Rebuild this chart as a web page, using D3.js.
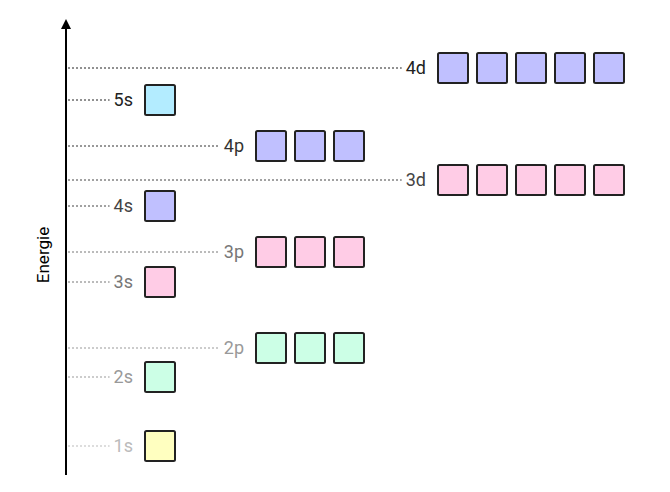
<!DOCTYPE html>
<html>
<head>
<meta charset="utf-8">
<script src="https://cdn.jsdelivr.net/npm/d3@7"></script>
<style>
  body { margin: 0; background: #fff; }
  text { font-family: Roboto, "Liberation Sans", sans-serif; }
</style>
</head>
<body>
<svg id="chart" width="670" height="492"></svg>
<script>
// orbitals, bottom to top
const orbitals = ["1s", "2s", "2p", "3s", "3p", "4s", "3d", "4p", "5s", "4d"];
const energies = [24, 93, 122, 188, 218, 264, 290, 324, 370, 402];
const boxCounts = [1, 1, 3, 1, 3, 1, 5, 3, 1, 5];
const fills = ["#ffffc0", "#ccffe6", "#ccffe6", "#ffcce6", "#ffcce6", "#c0c0ff", "#ffcce6", "#c0c0ff", "#b3ecff", "#c0c0ff"];
const labelColors = ["#bbbbbb", "#999999", "#999999", "#777777", "#777777", "#444444", "#444444", "#333333", "#222222", "#222222"];
const axisLabel = "Energie";

const svg = d3.select("#chart");
const y = d3.scaleLinear().domain([0, 455]).range([470, 15]);

// start x of first box per orbital type
const colStart = d3.scaleOrdinal().domain(["s", "p", "d"]).range([145, 256, 438]);
const boxSize = 30, boxStep = 39, axisX = 66;

svg.append("defs").append("marker")
  .attr("id", "arrow").attr("viewBox", "0 0 10 10")
  .attr("refX", 2).attr("refY", 5)
  .attr("markerWidth", 5).attr("markerHeight", 7).attr("orient", "auto")
  .append("path").attr("d", "M0,0L10,5L0,10z").attr("fill", "#000");

svg.append("line")
  .attr("x1", axisX).attr("x2", axisX)
  .attr("y1", y(0) + 5).attr("y2", y(455) + 12)
  .attr("stroke", "#000").attr("stroke-width", 2)
  .attr("marker-end", "url(#arrow)");

svg.append("text")
  .attr("transform", `translate(${axisX - 17},${y(215)}) rotate(-90)`)
  .attr("text-anchor", "middle")
  .attr("font-size", 17).attr("fill", "#000")
  .text(axisLabel);

const rows = orbitals.map((o, i) => ({
  name: o, type: o.slice(-1), e: energies[i], n: boxCounts[i],
  fill: fills[i], color: labelColors[i]
}));

const g = svg.selectAll("g.orb").data(rows).join("g").attr("class", "orb");

g.append("text")
  .attr("x", d => colStart(d.type) - 12)
  .attr("y", d => y(d.e))
  .attr("dy", "0.36em")
  .attr("text-anchor", "end")
  .attr("font-size", 18)
  .attr("fill", d => d.color)
  .text(d => d.name)
  .each(function (d) { d.textStart = colStart(d.type) - 12 - this.getComputedTextLength(); });

g.insert("line", "text")
  .attr("x1", axisX + 2)
  .attr("x2", d => d.textStart - 4)
  .attr("y1", d => y(d.e)).attr("y2", d => y(d.e))
  .attr("stroke", d => d.color).attr("stroke-width", 1)
  .attr("stroke-dasharray", "2,2");

g.selectAll("rect")
  .data(d => d3.range(d.n).map(k => ({ ...d, k })))
  .join("rect")
  .attr("x", d => colStart(d.type) + d.k * boxStep)
  .attr("y", d => y(d.e) - boxSize / 2)
  .attr("width", boxSize).attr("height", boxSize)
  .attr("rx", 1.5)
  .attr("fill", d => d.fill)
  .attr("stroke", "#222").attr("stroke-width", 2);
</script>
</body>
</html>
